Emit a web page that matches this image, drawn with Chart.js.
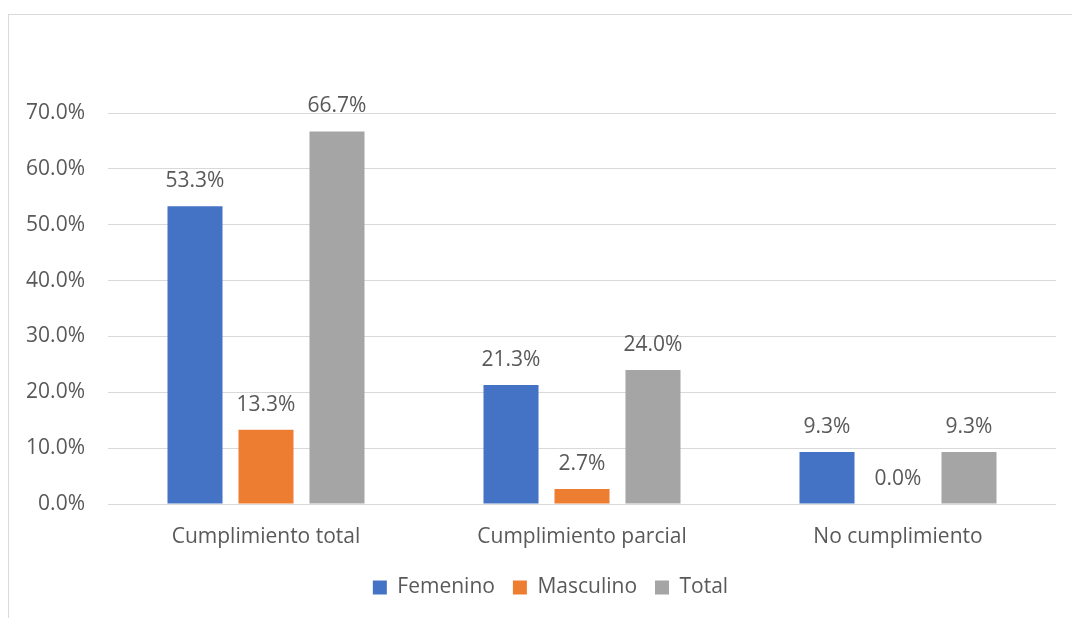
<!DOCTYPE html>
<html>
<head>
<meta charset="utf-8">
<script src="https://cdn.jsdelivr.net/npm/chart.js@4.4.1/dist/chart.umd.min.js"></script>
<style>
    html, body { margin: 0; padding: 0; background: #fff; overflow: hidden; }
    #frame {
        position: absolute;
        left: 8px;
        top: 14px;
        width: 1080px;
        height: 620px;
        border: 1px solid #d9d9d9;
    }
</style>
</head>
<body>
<div id="frame"><canvas id="chart" width="1080" height="620"></canvas></div>
<script>
const categories = ['Cumplimiento total', 'Cumplimiento parcial', 'No cumplimiento'];
const femenino = [53.3, 21.3, 9.3];
const masculino = [13.3, 2.7, 0.0];
const total = [66.7, 24.0, 9.3];
const yMax = 70;
const yStep = 10;

const textColor = '#595959';
const fontFamily = '"Open Sans", "Liberation Sans", sans-serif';
const fontSize = 21;

// value labels above each bar
const barLabels = {
    id: 'barLabels',
    afterDatasetsDraw(chart) {
        const ctx = chart.ctx;
        ctx.save();
        ctx.fillStyle = textColor;
        ctx.font = fontSize + 'px ' + fontFamily;
        ctx.textAlign = 'center';
        ctx.textBaseline = 'middle';
        chart.data.datasets.forEach((ds, i) => {
            chart.getDatasetMeta(i).data.forEach((bar, j) => {
                ctx.fillText(ds.data[j].toFixed(1) + '%', bar.x, bar.y - 25);
            });
        });
        ctx.restore();
    }
};

// nudge the legend to the right, as in the original
const legendShift = {
    id: 'legendShift',
    afterLayout(chart) {
        if (!chart.legend) return;
        chart.legend.left += 18;
        chart.legend.right += 18;
    }
};

new Chart(document.getElementById('chart').getContext('2d'), {
    type: 'bar',
    data: {
        labels: categories,
        datasets: [
            { label: 'Femenino', data: femenino, backgroundColor: '#4472C4' },
            { label: 'Masculino', data: masculino, backgroundColor: '#ED7D31' },
            { label: 'Total', data: total, backgroundColor: '#A5A5A5' }
        ]
    },
    options: {
        responsive: false,
        animation: false,
        layout: { padding: { top: 98, left: 0, right: 33, bottom: 27 } },
        datasets: {
            bar: { categoryPercentage: 0.674, barPercentage: 0.775 }
        },
        scales: {
            x: {
                grid: { display: false },
                border: { display: false },
                ticks: { color: textColor, font: { family: fontFamily, size: fontSize }, padding: 12 },
                afterFit(axis) { axis.height = 55; }
            },
            y: {
                min: 0,
                max: yMax,
                grid: { color: '#d9d9d9', drawTicks: false },
                border: { display: false },
                ticks: {
                    stepSize: yStep,
                    color: textColor,
                    font: { family: fontFamily, size: fontSize },
                    padding: 23,
                    callback: (v) => Number(v).toFixed(1) + '%'
                },
                afterFit(axis) { axis.width = 99; }
            }
        },
        plugins: {
            legend: {
                position: 'bottom',
                labels: {
                    color: textColor,
                    font: { family: fontFamily, size: fontSize },
                    boxWidth: 14,
                    boxHeight: 14,
                    padding: 18
                }
            },
            tooltip: { enabled: false }
        }
    },
    plugins: [barLabels, legendShift]
});
</script>
</body>
</html>
